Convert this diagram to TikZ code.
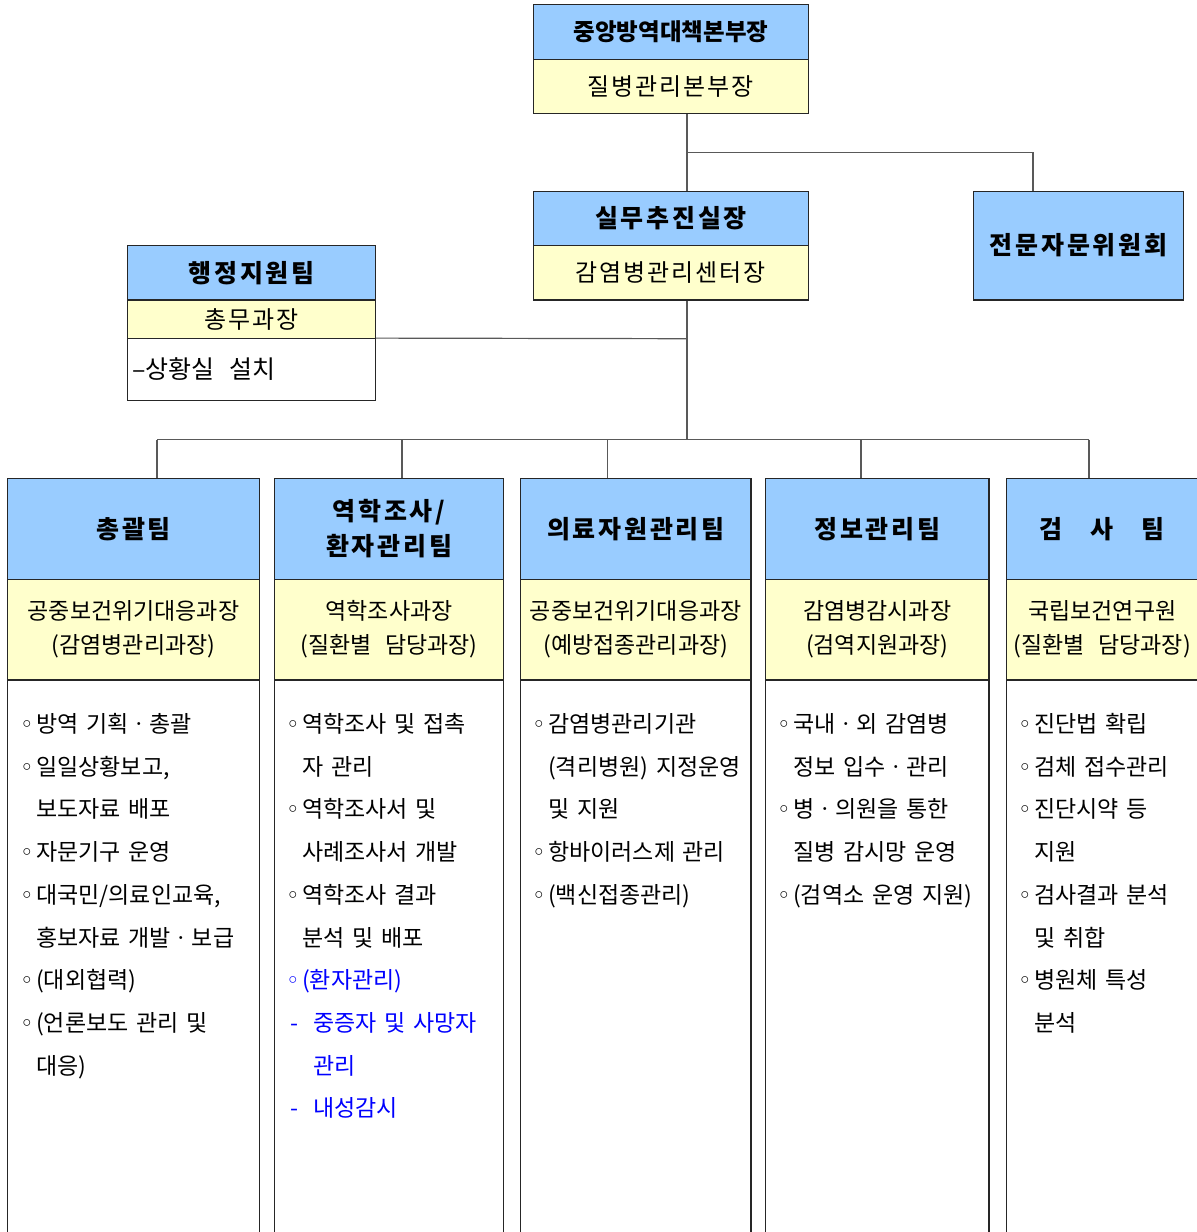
\documentclass[tikz,border=0pt]{standalone}
\usepackage{fontspec}
\usepackage{xcolor}
\usepackage{tikz}
\setmainfont{Noto Sans CJK KR}[WordSpace=2.6]
\newfontfamily\spaced{Noto Sans CJK KR}[LetterSpace=11]
\newfontfamily\subspaced{Noto Sans CJK KR}[LetterSpace=8]
\newfontfamily\symfont{DejaVu Sans}
\definecolor{headblue}{RGB}{153,204,255}
\definecolor{subyellow}{RGB}{255,255,204}
\newcommand{\bul}{\makebox[16pt][l]{\symfont ◦}}
\newcommand{\ind}{\hspace*{16pt}}
\newcommand{\dsh}{\makebox[27pt][l]{\hspace*{4pt}-}}

\begin{document}
\begin{tikzpicture}[x=1pt,y=-1pt,
    box/.style={draw=black!85, line width=1.2pt, inner sep=0pt, align=center},
    headbox/.style={box, fill=headblue, font=\spaced\bfseries\fontsize{25}{35}\selectfont},
    subbox/.style={box, fill=subyellow, font=\fontsize{23}{34}\selectfont},
    bodybox/.style={box, fill=white},
    link/.style={draw=black!65, line width=1.2pt},
    itemtext/.style={anchor=base west, inner sep=0pt, align=left, text width=#1,
        font=\fontsize{23}{42.7}\selectfont}]
    \useasboundingbox (0,0) rectangle (1197,1232);
    \clip (0,0) rectangle (1197,1232);
    %%%%%%%%%%%%%%%%%%%%%%%%%%%%%%%%%%
    \coordinate (split) at (687,152.3); % trunk
    \coordinate (advdrop) at (1033,152.3);
    \coordinate (admjoin) at (687,338.7);
    \coordinate (bus) at (687,439.5);
    \coordinate (d1) at (157,439.5);
    \coordinate (d2) at (402,439.5);
    \coordinate (d3) at (607.5,439.5);
    \coordinate (d4) at (861,439.5);
    \coordinate (d5) at (1089,439.5);
    %%%%%%%%%%%%%%%%%%%%%%%%%%%%%%%%%%
    \node[headbox, minimum width=275pt, minimum height=54.6pt,
        font=\bfseries\fontsize{23.5}{35}\selectfont] (hq) at (671,32) {중앙방역대책본부장};
    \node[subbox, minimum width=275pt, minimum height=54pt,
        font=\subspaced\fontsize{24}{34}\selectfont] (hqsub) at (671,86.3) {질병관리본부장};
    \node[headbox, minimum width=275pt, minimum height=54.4pt] (ops) at (671,218.5) {실무추진실장};
    \node[subbox, minimum width=275pt, minimum height=54.3pt,
        font=\subspaced\fontsize{24}{34}\selectfont] (opssub) at (671,272.85) {감염병관리센터장};
    \node[headbox, minimum width=210pt, minimum height=108.7pt] (adv) at (1078.5,245.6) {전문자문위원회};
    %%%%%%%%%%%%%%%%%%%%%%%%%%%%%%%%%%
    \node[headbox, minimum width=248pt, minimum height=54.7pt] (adm) at (251.5,272.7) {행정지원팀};
    \node[subbox, minimum width=248pt, minimum height=38.7pt,
        font=\subspaced\fontsize{24}{34}\selectfont] (admsub) at (251.5,319.3) {총무과장};
    \node[bodybox, minimum width=248pt, minimum height=61.6pt] (admbody) at (251.5,369.5) {};
    \node[anchor=west, inner sep=0pt, font=\fontsize{25}{34}\selectfont] (admtext) at (132,369.5) {–상황실 설치};
    %%%%%%%%%%%%%%%%%%%%%%%%%%%%%%%%%%
    \draw[link] (hqsub.south -| split) -- (ops.north -| split); % Tronc
    \draw[link] (split) -- (advdrop) -- (adv.north -| advdrop);
    \draw[link] (opssub.south -| bus) -- (bus);
    \draw[link] (admbody.north east) -- (admjoin);
    \draw[link] (d1) -- (d5); % bus
    %%%%%%%%%%%%%%%%%%%%%%%%%%%%%%%%%%
    \node[headbox, minimum width=252pt, minimum height=100.6pt] (chong) at (133.5,529) {총괄팀};
    \node[subbox, minimum width=252pt, minimum height=100.7pt] (chongsub) at (133.5,629.65) {공중보건위기대응과장\\(감염병관리과장)};
    \node[bodybox, minimum width=252pt, minimum height=570pt] (chongbody) at (133.5,965) {};
    \node[headbox, minimum width=229pt, minimum height=100.6pt] (epi) at (389,529) {역학조사/\\환자관리팀};
    \node[subbox, minimum width=229pt, minimum height=100.7pt] (episub) at (389,629.65) {역학조사과장\\(질환별 담당과장)};
    \node[bodybox, minimum width=229pt, minimum height=570pt] (epibody) at (389,965) {};
    \node[headbox, minimum width=230.5pt, minimum height=100.6pt] (med) at (635.75,529) {의료자원관리팀};
    \node[subbox, minimum width=230.5pt, minimum height=100.7pt] (medsub) at (635.75,629.65) {공중보건위기대응과장\\(예방접종관리과장)};
    \node[bodybox, minimum width=230.5pt, minimum height=570pt] (medbody) at (635.75,965) {};
    \node[headbox, minimum width=223.5pt, minimum height=100.6pt] (info) at (877.25,529) {정보관리팀};
    \node[subbox, minimum width=223.5pt, minimum height=100.7pt] (infosub) at (877.25,629.65) {감염병감시과장\\(검역지원과장)};
    \node[bodybox, minimum width=223.5pt, minimum height=570pt] (infobody) at (877.25,965) {};
    \node[headbox, minimum width=191.5pt, minimum height=100.6pt] (lab) at (1102.25,529) {검\hspace{28pt}사\hspace{28pt}팀};
    \node[subbox, minimum width=191.5pt, minimum height=100.7pt] (labsub) at (1102.25,629.65) {국립보건연구원\\(질환별 담당과장)};
    \node[bodybox, minimum width=191.5pt, minimum height=570pt] (labbody) at (1102.25,965) {};
    \foreach \i/\c in {1/chong,2/epi,3/med,4/info,5/lab}
        \draw[link] (d\i) -- (d\i |- \c.north);
    %%%%%%%%%%%%%%%%%%%%%%%%%%%%%%%%%%
    \node[itemtext=236pt] (chongitems) at (20,732.5) {\bul 방역 기획ㆍ총괄\\
        \bul 일일상황보고,\\ \ind 보도자료 배포\\
        \bul 자문기구 운영\\
        \bul 대국민/의료인교육,\\ \ind 홍보자료 개발ㆍ보급\\
        \bul (대외협력)\\
        \bul (언론보도 관리 및\\ \ind 대응)};
    \node[itemtext=214pt] (epiitems) at (286,732.5) {\bul 역학조사 및 접촉\\ \ind 자 관리\\
        \bul 역학조사서 및\\ \ind 사례조사서 개발\\
        \bul 역학조사 결과\\ \ind 분석 및 배포\\
        \color{blue}\bul (환자관리)\\
        \color{blue}\dsh 중증자 및 사망자\\ \color{blue}\hspace*{27pt}관리\\
        \color{blue}\dsh 내성감시};
    \node[itemtext=218pt] (meditems) at (532,732.5) {\bul 감염병관리기관\\ \ind (격리병원) 지정운영\\ \ind 및 지원\\
        \bul 항바이러스제 관리\\
        \bul (백신접종관리)};
    \node[itemtext=210pt] (infoitems) at (777,732.5) {\bul 국내ㆍ외 감염병\\ \ind 정보 입수ㆍ관리\\
        \bul 병ㆍ의원을 통한\\ \ind 질병 감시망 운영\\
        \bul (검역소 운영 지원)};
    \node[itemtext=178pt] (labitems) at (1018,732.5) {\bul 진단법 확립\\
        \bul 검체 접수관리\\
        \bul 진단시약 등\\ \ind 지원\\
        \bul 검사결과 분석\\ \ind 및 취합\\
        \bul 병원체 특성\\ \ind 분석};
\end{tikzpicture}
\end{document}
